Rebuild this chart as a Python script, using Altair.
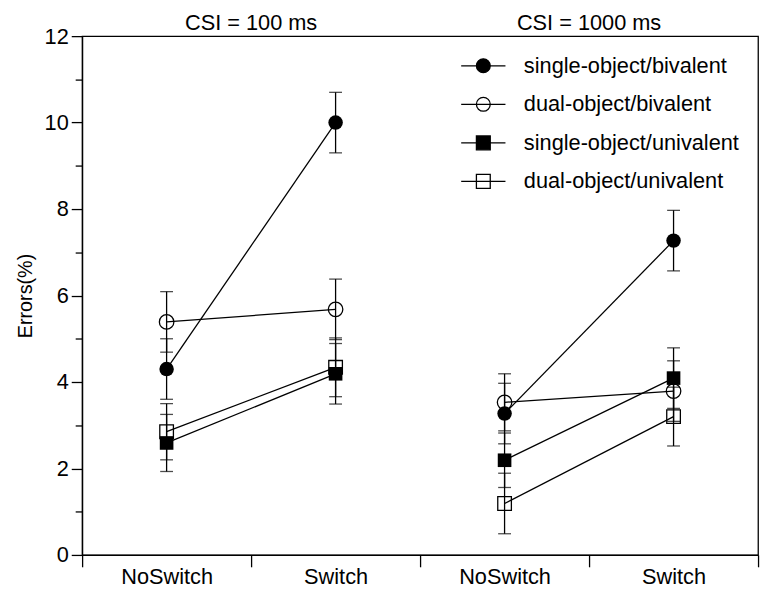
import altair as alt
import pandas as pd

# ---- data ----
conditions = ["NoSwitch", "Switch", "NoSwitch", "Switch"]
csi_groups = ["CSI = 100 ms", "CSI = 100 ms", "CSI = 1000 ms", "CSI = 1000 ms"]
series_names = ["single-object/bivalent", "dual-object/bivalent",
                "single-object/univalent", "dual-object/univalent"]

single_bivalent = [4.30, 10.00, 3.27, 7.27]
single_bivalent_err = [0.70, 0.70, 0.70, 0.70]
dual_bivalent = [5.39, 5.68, 3.53, 3.79]
dual_bivalent_err = [0.70, 0.70, 0.66, 0.70]
single_univalent = [2.59, 4.19, 2.19, 4.09]
single_univalent_err = [0.66, 0.70, 0.63, 0.70]
dual_univalent = [2.85, 4.34, 1.19, 3.20]
dual_univalent_err = [0.65, 0.68, 0.70, 0.68]

group_titles = ["CSI = 100 ms", "CSI = 1000 ms"]

values = [single_bivalent, dual_bivalent, single_univalent, dual_univalent]
errors = [single_bivalent_err, dual_bivalent_err, single_univalent_err, dual_univalent_err]

rows = []
for s, vals, errs in zip(series_names, values, errors):
    for i, (c, g, v, e) in enumerate(zip(conditions, csi_groups, vals, errs)):
        rows.append({"series": s, "condition": c, "csi": g, "pos": i + 0.5,
                     "value": v, "lo": v - e, "hi": v + e})
df = pd.DataFrame(rows)

title_df = pd.DataFrame({"label": group_titles, "pos": [1.0, 3.0]})

LW = 1.3
x_enc = alt.X("pos:Q", scale=alt.Scale(domain=[0, 4], nice=False),
              axis=alt.Axis(
                  values=[0, 0.5, 1, 1.5, 2, 2.5, 3, 3.5, 4],
                  labelExpr="datum.value % 1 == 0 ? '' : (floor(datum.value) % 2 == 0 ? 'NoSwitch' : 'Switch')",
                  tickOpacity={"condition": {"test": "datum.value % 1 == 0", "value": 1}, "value": 0},
                  tickSize=12, labelPadding=0, labelFontSize=22, labelOverlap=False,
                  labelFlush=False, grid=False, title=None))
y_enc = alt.Y("value:Q", scale=alt.Scale(domain=[0, 12], nice=False),
              axis=alt.Axis(
                  values=[i * 0.5 for i in range(25)],
                  labelExpr="datum.value % 2 == 0 ? datum.label : ''",
                  tickSize={"condition": {"test": "datum.value % 2 == 0", "value": 11}, "value": 7},
                  labelPadding=3, labelFontSize=22, labelOverlap=False, grid=False,
                  title="Errors(%)", titleFontSize=20, titleFontWeight="normal",
                  titlePadding=9))

base = alt.Chart(df)

lines = base.mark_line(color="black", strokeWidth=LW).encode(
    x=x_enc, y=y_enc, detail=["series:N", "csi:N"])

bars = base.mark_rule(color="black", strokeWidth=LW).encode(
    x="pos:Q", y="lo:Q", y2="hi:Q")
caps_lo = base.mark_tick(orient="horizontal", size=13, thickness=LW, color="black").encode(
    x="pos:Q", y="lo:Q")
caps_hi = base.mark_tick(orient="horizontal", size=13, thickness=LW, color="black").encode(
    x="pos:Q", y="hi:Q")

marker_specs = [("circle", True, 215), ("circle", False, 215),
                ("square", True, 190), ("square", False, 190)]
point_layers = []
for s, (shp, filled, sz) in zip(series_names, marker_specs):
    point_layers.append(
        base.transform_filter(alt.datum.series == s).mark_point(
            shape=shp, filled=filled, size=sz, strokeWidth=LW,
            color="black", opacity=1,
            fill="black" if filled else "transparent").encode(x="pos:Q", y="value:Q"))

# legend symbols: marker with a line through it
r = 1.0
L = 3.2
circle_path = (f"M {-L} 0 L {L} 0 M {r} 0 A {r} {r} 0 1 1 {-r} 0 A {r} {r} 0 1 1 {r} 0 Z")
square_path = (f"M {-L} 0 L {L} 0 M {-r} {-r} L {r} {-r} L {r} {r} L {-r} {r} Z")
leg = alt.Legend(title=None, orient="none", legendX=395, legendY=19, padding=0,
                 labelFontSize=22, labelOffset=30, rowPadding=17,
                 symbolStrokeColor="black", symbolStrokeWidth=LW, symbolSize=196,
                 labelLimit=400)
legend_layer = base.transform_filter("false").mark_point(strokeWidth=LW, opacity=1).encode(
    shape=alt.Shape("series:N", scale=alt.Scale(domain=series_names,
                    range=[circle_path, circle_path, square_path, square_path]), legend=leg),
    fill=alt.Fill("series:N", scale=alt.Scale(domain=series_names,
                  range=["black", "transparent", "black", "transparent"]), legend=leg),
    stroke=alt.Stroke("series:N", scale=alt.Scale(domain=series_names,
                      range=["black", "black", "black", "black"]), legend=leg),
    size=alt.value(196))

titles = alt.Chart(title_df).mark_text(fontSize=22, baseline="middle", color="black").encode(
    x="pos:Q", y=alt.value(-13), text="label:N")

chart = alt.layer(lines, bars, caps_lo, caps_hi, *point_layers, legend_layer, titles).properties(
    width=684, height=525,
    autosize=alt.AutoSizeParams(type="none"),
    padding={"left": 75, "top": 25, "right": 4, "bottom": 30},
).configure(font="Liberation Sans").configure_view(
    stroke="black", strokeWidth=LW
).configure_axis(
    domainColor="black", domainWidth=LW, tickColor="black", tickWidth=LW,
    labelColor="black", titleColor="black", labelFont="Liberation Sans",
    titleFont="Liberation Sans"
).configure_legend(labelColor="black", labelFont="Liberation Sans")

chart.save("out.html", embed_options={"renderer": "svg", "actions": False})
